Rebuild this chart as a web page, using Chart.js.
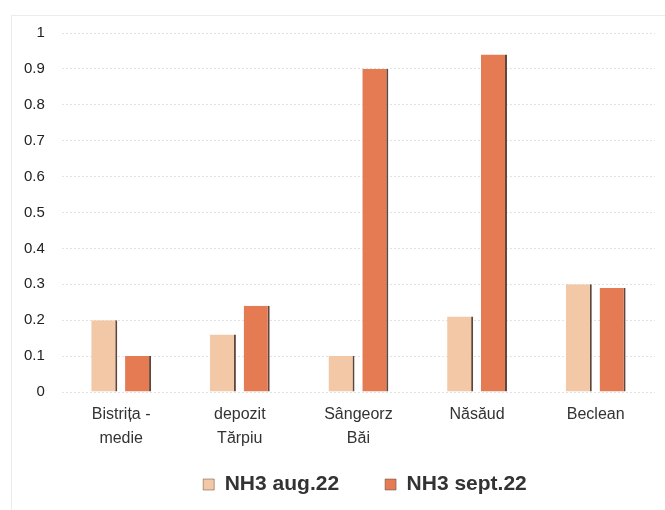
<!DOCTYPE html>
<html>
<head>
<meta charset="utf-8">
<script src="https://cdn.jsdelivr.net/npm/chart.js@4.4.1/dist/chart.umd.min.js"></script>
<style>
  html, body { margin: 0; padding: 0; background: #fff; }
  #wrap { position: relative; width: 665px; height: 510px; }
  #frame {
    position: absolute; left: 11px; top: 15px; right: 0; bottom: 0;
    border-top: 1px solid #ececec; border-left: 1px solid #ececec;
  }
  canvas { position: absolute; left: 0; top: 0; }
</style>
</head>
<body>
<div id="wrap">
  <div id="frame"></div>
  <canvas id="chart" width="665" height="510"></canvas>
</div>
<script>
// =====================================================
// DATA
// =====================================================

// sampling points, split in two lines like the original
const stations = [
  ['Bistrița -', 'medie'],
  ['depozit', 'Tărpiu'],
  ['Sângeorz', 'Băi'],
  ['Năsăud'],
  ['Beclean']
];

// NH3 concentrations
const nh3Aug  = [0.20, 0.16, 0.10, 0.21, 0.30];
const nh3Sept = [0.10, 0.24, 0.90, 0.94, 0.29];

const seriesNames = ['NH3 aug.22', 'NH3 sept.22'];

// y axis labels, bottom to top
const yTickLabels = ['0', '0.1', '0.2', '0.3', '0.4', '0.5', '0.6', '0.7', '0.8', '0.9', '1'];


// =====================================================
// LEGEND PLACEMENT
// wide gap between the two items, but a short legend box
// =====================================================

const legendPlace = {
  id: 'legendPlace',
  beforeLayout(chart) {
    const lg = chart.legend;
    if (!lg || lg._wrapped) return;
    const fit = lg.fit;
    lg.fit = function () {
      fit.call(this);
      this.height = 56;
    };
    lg._wrapped = true;
  },
  afterLayout(chart) {
    const lg = chart.legend;
    // move the legend row to where the original has it
    lg.top = 428;
    lg.bottom = chart.height;
    lg.height = lg.bottom - lg.top;
    lg.left += 34;
    lg.right += 34;
  }
};


// =====================================================
// CHART
// =====================================================

const ctx = document.getElementById('chart');

new Chart(ctx, {
  type: 'bar',
  data: {
    labels: stations,
    datasets: [
      {
        label: seriesNames[0],
        data: nh3Aug,
        backgroundColor: '#f3c8a6',
        borderColor: '#5e463c',
        borderWidth: { right: 2, left: 0, top: 0, bottom: 0 },
        borderSkipped: false
      },
      {
        label: seriesNames[1],
        data: nh3Sept,
        backgroundColor: '#e47b53',
        borderColor: '#5e463c',
        borderWidth: { right: 2, left: 0, top: 0, bottom: 0 },
        borderSkipped: false
      }
    ]
  },
  plugins: [legendPlace],
  options: {
    responsive: false,
    animation: false,
    categoryPercentage: 0.57,
    barPercentage: 0.77,
    layout: { padding: { left: 7, right: 10, top: 33, bottom: 6 } },
    plugins: {
      tooltip: { enabled: false },
      legend: {
        position: 'bottom',
        labels: {
          color: '#333',
          font: { family: 'Liberation Sans', size: 21, weight: 'bold' },
          boxWidth: 11,
          boxHeight: 11,
          padding: 46
        }
      }
    },
    scales: {
      x: {
        grid: { display: false, drawTicks: false },
        border: { display: false },
        ticks: {
          color: '#333',
          font: { family: 'Liberation Sans', size: 16, lineHeight: 1.5 },
          maxRotation: 0,
          padding: 11
        },
        afterFit: scale => { scale.height = 56; }
      },
      y: {
        min: 0,
        max: 1,
        grid: { color: '#e2e2e2', drawTicks: false },
        border: { display: false, dash: [2, 2] },
        ticks: {
          stepSize: 0.1,
          color: '#222',
          font: { family: 'Liberation Sans', size: 15 },
          padding: 17,
          callback: (v, i) => yTickLabels[i]
        }
      }
    }
  }
});
</script>
</body>
</html>
